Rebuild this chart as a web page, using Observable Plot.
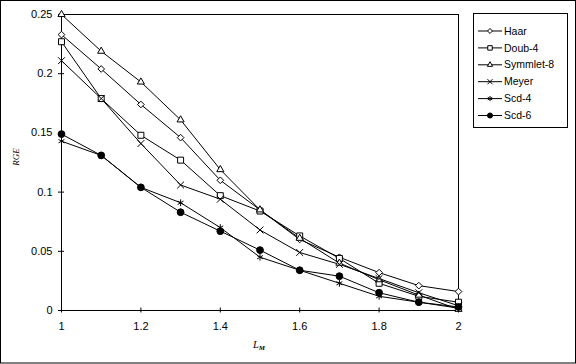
<!DOCTYPE html>
<html><head><meta charset="utf-8">
<script src="https://cdn.jsdelivr.net/npm/d3@7"></script>
<script src="https://cdn.jsdelivr.net/npm/@observablehq/plot@0.6"></script>
<style>body{margin:0;background:#fff}svg{display:block}</style>
</head><body><div id="chart"></div>
<script>
const xValues = [1, 1.1, 1.2, 1.3, 1.4, 1.5, 1.6, 1.7, 1.8, 1.9, 2];
const haar     = [0.233, 0.204, 0.174, 0.146, 0.110, 0.085, 0.060, 0.045, 0.032, 0.021, 0.016];
const doub4    = [0.227, 0.179, 0.148, 0.127, 0.097, 0.084, 0.063, 0.044, 0.023, 0.012, 0.007];
const symmlet8 = [0.250, 0.219, 0.193, 0.161, 0.119, 0.085, 0.061, 0.040, 0.026, 0.013, 0.001];
const meyer    = [0.211, 0.179, 0.141, 0.106, 0.094, 0.068, 0.049, 0.039, 0.027, 0.015, 0.004];
const scd4     = [0.143, 0.131, 0.104, 0.091, 0.070, 0.045, 0.034, 0.023, 0.012, 0.007, 0.002];
const scd6     = [0.149, 0.131, 0.104, 0.083, 0.067, 0.051, 0.034, 0.029, 0.015, 0.007, 0.003];
const seriesNames = ["Haar", "Doub-4", "Symmlet-8", "Meyer", "Scd-4", "Scd-6"];
const seriesValues = [haar, doub4, symmlet8, meyer, scd4, scd6];
const yTicks = [0, 0.05, 0.1, 0.15, 0.2, 0.25];
const xTicks = [1, 1.2, 1.4, 1.6, 1.8, 2];
const xLabel = "L";
const xLabelSub = "M";
const yLabel = "RGE";

const symbolSpec = [
  {sym: "diamond2", d3sym: d3.symbolDiamond2, r: 3.0, fill: "#fff"},
  {sym: "square2", d3sym: d3.symbolSquare2, r: 3.8, fill: "#fff"},
  {sym: "triangle2", d3sym: d3.symbolTriangle2, r: 3.4, fill: "#fff"},
  {sym: "times", d3sym: d3.symbolTimes, r: 3.2, fill: "none"},
  {sym: "asterisk", d3sym: d3.symbolAsterisk, r: 3.2, fill: "none"},
  {sym: "circle", d3sym: d3.symbolCircle, r: 3.4, fill: "#000"}
];

const data = seriesNames.flatMap((name, i) => xValues.map((x, j) => ({name, x, y: seriesValues[i][j]})));

const dotMarks = seriesNames.map((name, i) => Plot.dot(data.filter(d => d.name === name), {
  x: "x", y: "y", symbol: symbolSpec[i].sym, r: symbolSpec[i].r,
  fill: symbolSpec[i].fill, stroke: "#000", strokeWidth: 1
}));

const svg = Plot.plot({
  width: 576, height: 364,
  marginLeft: 61, marginRight: 118, marginTop: 14, marginBottom: 54,
  style: {fontFamily: "'Liberation Sans', Arial, sans-serif", fontSize: "11px", background: "#fff", color: "#000"},
  x: {domain: [1, 2]},
  y: {domain: [0, 0.25]},
  marks: [
    Plot.frame({stroke: "#000"}),
    Plot.axisY(yTicks, {tickSize: 6, dx: 3, text: null, label: null}),
    Plot.axisY(yTicks, {tickSize: 0, tickPadding: 9, tickFormat: d => String(d), label: null}),
    Plot.axisX(xTicks, {tickSize: 5, dy: -2.5, text: null, label: null}),
    Plot.axisX(xTicks, {tickSize: 0, tickPadding: 12, tickFormat: d => String(d), label: null}),
    Plot.line(data, {x: "x", y: "y", z: "name", stroke: "#000", strokeWidth: 1}),
    ...dotMarks
  ]
});
document.getElementById("chart").appendChild(svg);

const s = d3.select(svg);
// outer border
s.append("rect").attr("x", 0.5).attr("y", 0.5).attr("width", 575).attr("height", 362.5)
  .attr("fill", "none").attr("stroke", "#000");

// axis titles
s.append("text").attr("transform", "translate(19,157) rotate(-90)")
  .attr("text-anchor", "middle").attr("font-family", "'Liberation Serif', serif")
  .attr("fill", "#000").attr("font-style", "italic").attr("font-size", 9).text(yLabel);
const xl = s.append("text").attr("x", 259).attr("y", 348)
  .attr("text-anchor", "middle").attr("font-family", "'Liberation Serif', serif")
  .attr("fill", "#000").attr("font-style", "italic").attr("font-size", 10.5);
xl.append("tspan").text(xLabel);
xl.append("tspan").attr("dy", 2).attr("font-size", 7).attr("font-weight", "bold").text(xLabelSub);

// legend
const lg = s.append("g");
lg.append("rect").attr("x", 473.5).attr("y", 13.5).attr("width", 94).attr("height", 114)
  .attr("fill", "#fff").attr("stroke", "#000");
seriesNames.forEach((name, i) => {
  const y = 31 + i * 16.9;
  const g = lg.append("g");
  g.append("line").attr("x1", 478).attr("x2", 502).attr("y1", y).attr("y2", y).attr("stroke", "#000");
  const sz = Math.PI * (symbolSpec[i].r * 0.75) ** 2;
  g.append("path").attr("transform", `translate(490,${y})`)
    .attr("d", d3.symbol(symbolSpec[i].d3sym, sz)())
    .attr("fill", symbolSpec[i].fill).attr("stroke", "#000");
  g.append("text").attr("x", 504).attr("y", y).attr("dy", "0.35em").attr("text-anchor", "start")
    .attr("fill", "#000")
    .attr("font-family", "'Liberation Sans', Arial, sans-serif").attr("font-size", 10.5).text(name);
});
</script>
</body></html>
